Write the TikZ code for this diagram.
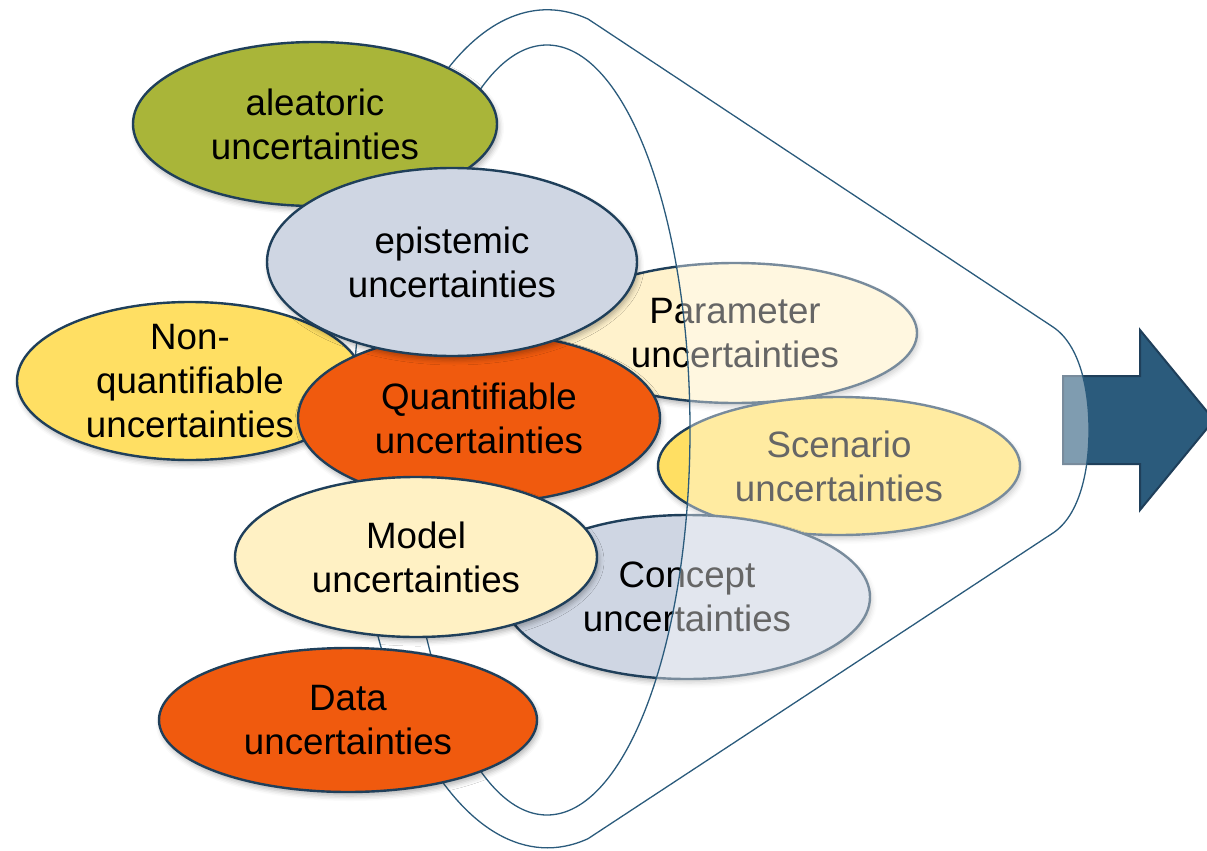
\documentclass[tikz,border=0pt]{standalone}
\usepackage{fontspec}
\setmainfont{Liberation Sans}
\usetikzlibrary{shapes.geometric,shadows.blur}

\definecolor{edge}{RGB}{31,63,90}
\definecolor{funnelline}{RGB}{43,91,124}
\definecolor{arrowblue}{RGB}{43,91,124}
\definecolor{aleagreen}{RGB}{169,181,57}
\definecolor{greyblue}{RGB}{207,214,227}
\definecolor{paleyellow}{RGB}{255,242,204}
\definecolor{modelyellow}{RGB}{255,241,196}
\definecolor{sunyellow}{RGB}{255,223,99}
\definecolor{hotorange}{RGB}{240,90,14}

\begin{document}
\begin{tikzpicture}[
        x=1pt, y=-1pt,
        blob/.style={ellipse, draw=edge, line width=2.4pt, inner sep=0pt, align=center,
            font=\fontsize{36.7}{44}\selectfont,
            blur shadow={shadow xshift=2pt, shadow yshift=-4pt, shadow blur radius=5pt, shadow opacity=30}},
        funnel/.style={draw=funnelline, line width=1.3pt}
    ]
        \useasboundingbox (0,0) rectangle (1207,851);

        % Ellipses behind the funnel
        \node[blob, fill=paleyellow, minimum width=364pt, minimum height=140pt] (param) at (735,333) {Parameter\\uncertainties};
        \node[blob, fill=sunyellow, minimum width=362pt, minimum height=138pt] (scen) at (839,466) {Scenario\\uncertainties};
        \node[blob, fill=greyblue, minimum width=366pt, minimum height=164pt] (concept) at (687,597) {Concept\\uncertainties};

        % Arrow
        \draw[fill=arrowblue, draw=edge, line width=2pt] (1063,376) -- (1140,376) -- (1140,330) -- (1214,420)
            -- (1140,510) -- (1140,464) -- (1063,464) -- cycle;

        % Funnel
        \path[fill=white, fill opacity=0.4, even odd rule]
            (1053,327) -- (588,19) arc[start angle=-78, end angle=-282, x radius=195, y radius=419]
            -- (1053,533) .. controls (1080,515) and (1089,470) .. (1089,430)
            .. controls (1089,390) and (1080,345) .. (1053,327) -- cycle
            (547,430) ellipse[x radius=143, y radius=385];
        \draw[funnel]
            (1053,327) -- (588,19) arc[start angle=-78, end angle=-282, x radius=195, y radius=419]
            -- (1053,533) .. controls (1080,515) and (1089,470) .. (1089,430)
            .. controls (1089,390) and (1080,345) .. (1053,327) -- cycle;
        \draw[funnel] (547,430) ellipse[x radius=143, y radius=385];

        % Ellipses in front
        \node[blob, fill=aleagreen, minimum width=364pt, minimum height=164pt] (alea) at (315,124) {aleatoric\\uncertainties};
        \node[blob, fill=sunyellow, inner sep=-10pt, minimum width=346pt, minimum height=158pt] (nonquant) at (190,381) {Non-\\quantifiable\\uncertainties};
        \node[blob, fill=hotorange, minimum width=362pt, minimum height=170pt] (quant) at (479,418) {Quantifiable\\uncertainties};
        \node[blob, fill=greyblue, minimum width=370pt, minimum height=188pt] (epist) at (452,262) {epistemic\\uncertainties};
        \node[blob, fill=modelyellow, minimum width=362pt, minimum height=160pt] (model) at (416,557) {Model\\uncertainties};
        \node[blob, fill=hotorange, minimum width=378pt, minimum height=144pt] (data) at (348,720) {Data\\uncertainties};
    \end{tikzpicture}
\end{document}
